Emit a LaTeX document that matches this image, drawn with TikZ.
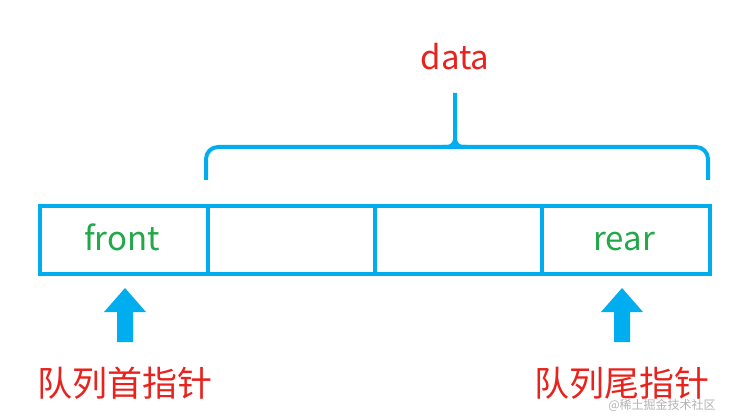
\documentclass[tikz,border=0pt]{standalone}
\usepackage{fontspec}
\setmainfont{Noto Sans CJK SC}
\definecolor{qblue}{HTML}{00AEEF}
\definecolor{qgreen}{HTML}{22A848}
\definecolor{qred}{HTML}{E8231E}
\begin{document}
\begin{tikzpicture}[x=1pt,y=-1pt,
  cell/.style={draw=qblue,line width=4pt,minimum height=68pt,inner sep=0pt,anchor=north west},
  ctext/.style={text=qgreen,font=\fontsize{33}{36}\selectfont,anchor=base},
  lbl/.style={text=qred,font=\fontsize{35}{38}\selectfont}]
\useasboundingbox (0,0) rectangle (734,417);
\node[cell,minimum width=168pt] (c1) at (38,204) {};
\node[cell,minimum width=167pt] (c2) at (206,204) {};
\node[cell,minimum width=167pt] (c3) at (373,204) {};
\node[cell,minimum width=168pt] (c4) at (540,204) {};
\node[ctext] (tf) at (122,250) {front};
\node[ctext] (tr) at (624,250) {rear};
\node[lbl,font=\fontsize{33}{36}\selectfont] (data) at (455,57) {data};
\draw[qblue,line width=4pt,rounded corners=12pt]
  (206,180) -- (206,147) -- (455,147) ;
\draw[qblue,line width=4pt,rounded corners=12pt]
  (708,180) -- (708,147) -- (455,147);
\draw[qblue,line width=4pt,rounded corners=8pt]
  (443,147) -- (455,147) -- (455,93);
\draw[qblue,line width=4pt,rounded corners=8pt]
  (467,147) -- (455,147) -- (455,120);
\foreach \n/\x in {a1/125,a2/622}{
  \fill[qblue] (\x,288) -- (\x+21,312) -- (\x+8,312) -- (\x+8,342) -- (\x-8,342) -- (\x-8,312) -- (\x-21,312) -- cycle;
}
\node[lbl] (l1) at (125,383) {队列首指针};
\node[lbl] (l2) at (622,383) {队列尾指针};
\node[text=gray!60,font=\fontsize{12}{14}\selectfont] (wm) at (662,405) {@稀土掘金技术社区};
\end{tikzpicture}
\end{document}
